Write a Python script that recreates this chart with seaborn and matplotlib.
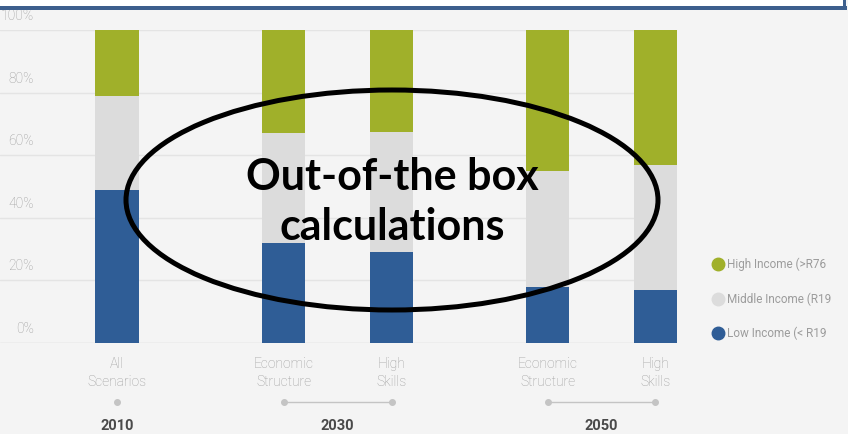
import numpy as np
import matplotlib
matplotlib.use("Agg")
import matplotlib.pyplot as plt
import seaborn as sns
from matplotlib.patches import Ellipse, Rectangle
from matplotlib.lines import Line2D

# data (percent of households)
scenarios = ["All\nScenarios", "Economic\nStructure", "High\nSkills", "Economic\nStructure", "High\nSkills"]
years = ["2010", "2030", "2030", "2050", "2050"]
low_income = [49, 32, 29, 18, 17]
middle_income = [30, 35, 38.5, 37, 40]
high_income = [21, 33, 32.5, 45, 43]
# legend labels as far as they are visible in the cropped picture
legend_labels = ["High Income (>R76", "Middle Income (R19", "Low Income (< R19"]
y_ticks = [0, 20, 40, 60, 80, 100]

# layout (bar slots along the x axis, not data)
slot = [0, 1.55, 2.55, 4.0, 5.0]

BG = "#f4f4f4"
GREEN = "#a0b02a"
GREY = "#dcdcdc"
BLUE = "#2f5d96"
TXT = "#9c9c9c"

sns.set_style("white", {"axes.facecolor": BG, "figure.facecolor": BG})
plt.rcParams["font.family"] = ["Roboto", "DejaVu Sans"]

W, H = 848, 434
fig = plt.figure(figsize=(W / 100, H / 100), dpi=100)
ax = fig.add_axes([0, (H - 343) / H, 677 / W, (343 - 30) / H])

low = np.array(low_income)
mid = low + np.array(middle_income)
top = mid + np.array(high_income)

# stacked bars, drawn back to front
for vals, col in [(top, GREEN), (mid, GREY), (low, BLUE)]:
    sns.barplot(x=slot, y=vals, native_scale=True, orient="x", width=0.4,
                color=col, saturation=1, linewidth=0, errorbar=None, ax=ax, zorder=2)

ax.set_xlim(-117 / 107.7, slot[-1] + 0.2)
ax.set_ylim(0, 100)
for v in y_ticks:
    ax.axhline(v, color="#d4d4d4" if v == 0 else "#e4e4e4", lw=1, zorder=0)
    ax.annotate(f"{v}%", xy=(0, v), xycoords=("axes fraction", "data"),
                xytext=(34, 14), textcoords="offset pixels",
                ha="right", va="center", fontsize=10, fontweight="light", color=TXT)
ax.set_xticks([])
ax.set_yticks([])
sns.despine(ax=ax, left=True, bottom=True)

# scenario labels under each bar
for x, lab in zip(slot, scenarios):
    ax.annotate(lab, xy=(x, 0), xycoords=("data", "axes fraction"),
                xytext=(0, -30), textcoords="offset pixels",
                ha="center", va="center", fontsize=10, fontweight="light",
                color=TXT, linespacing=1.3)

# year groups: dots, connector and year
dot_y = -59 / 313
xform = ax.get_xaxis_transform()
for yr in dict.fromkeys(years):
    xs = [x for x, y in zip(slot, years) if y == yr]
    ax.plot(xs, [dot_y] * len(xs), transform=xform, marker="o", ms=4, lw=1,
            color="#c4c4c4", clip_on=False, zorder=3)
    ax.annotate(yr, xy=(np.mean(xs), 0), xycoords=("data", "axes fraction"),
                xytext=(0, -83), textcoords="offset pixels",
                ha="center", va="center", fontsize=10.5, fontweight="bold", color="#4a4a4a")

# legend on the right
handles = [Line2D([], [], ls="", marker="o", ms=9, color=c) for c in (GREEN, GREY, BLUE)]
fig.legend(handles, legend_labels, loc="center left",
           bbox_to_anchor=(706 / W, 1 - 299 / H), bbox_transform=fig.transFigure,
           frameon=False, fontsize=8.5, labelcolor=TXT, labelspacing=1.78,
           handletextpad=0.2, handlelength=1.2, borderaxespad=0)

# frame of the box above the chart
fig.add_artist(Rectangle((0, 1 - 6 / H), 845 / W, 6 / H, transform=fig.transFigure,
                         facecolor="white", edgecolor="none"))
fig.add_artist(Rectangle((0, 1 - 10 / H), 847 / W, 4 / H, transform=fig.transFigure,
                         facecolor="#3d5f8d", edgecolor="none"))
fig.add_artist(Rectangle((843 / W, 1 - 10 / H), 3 / W, 10 / H, transform=fig.transFigure,
                         facecolor="#3d5f8d", edgecolor="none"))

# overlay callout
fig.add_artist(Ellipse((392 / W, 1 - 200 / H), 532 / W, 220 / H, transform=fig.transFigure,
                       fill=False, edgecolor="black", lw=3.6, zorder=10))
fig.text(392 / W, 1 - 177 / H, "Out-of-the box", ha="center", va="center",
         fontsize=31, fontweight="bold", family=["Lato", "DejaVu Sans"], color="black", zorder=11)
fig.text(392 / W, 1 - 227 / H, "calculations", ha="center", va="center",
         fontsize=31, fontweight="bold", family=["Lato", "DejaVu Sans"], color="black", zorder=11)

fig.savefig("out.png", dpi=100, facecolor=BG)
